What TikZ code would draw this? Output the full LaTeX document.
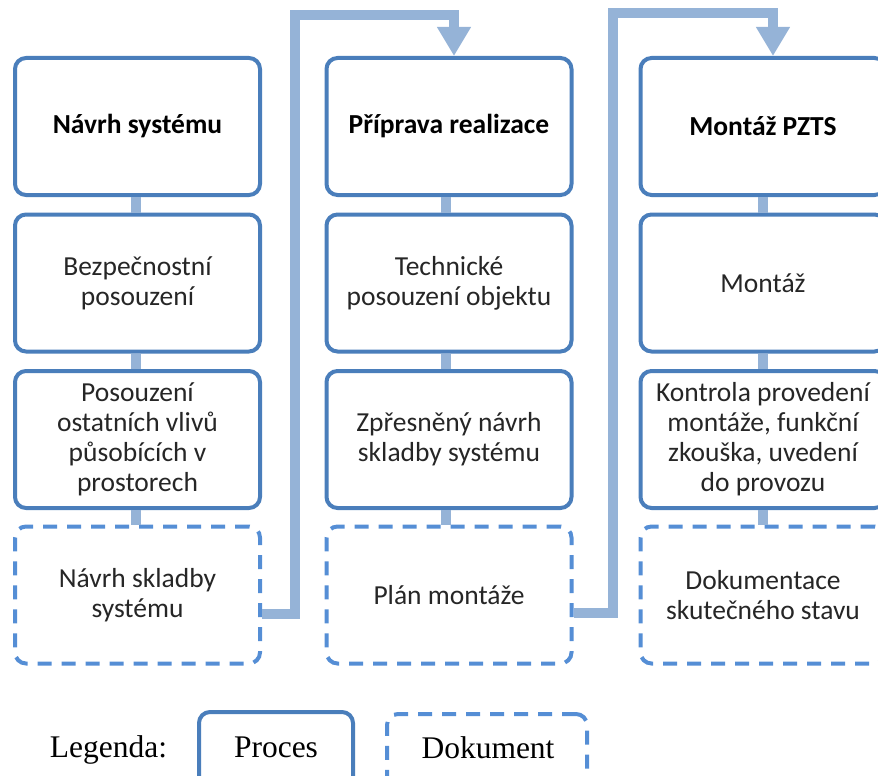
\documentclass[tikz,border=0pt]{standalone}
\usepackage{fontspec}
\setmainfont{Carlito}
\newfontfamily\legendfont{Liberation Serif}
\usetikzlibrary{arrows.meta}

\definecolor{procline}{RGB}{74,126,187}
\definecolor{docline}{RGB}{85,142,213}
\definecolor{linkblue}{RGB}{149,179,215}
\definecolor{bodytext}{RGB}{38,38,38}

\tikzset{
  procbox/.style={draw=procline, line width=4pt, rounded corners=11pt, fill=white,
    minimum width=245pt, minimum height=137pt, inner sep=0pt, align=center,
    text=bodytext, font=\fontsize{27.5}{30}\selectfont},
  headbox/.style={procbox, text=black, font=\fontsize{27.5}{30}\selectfont\bfseries},
  docbox/.style={procbox, draw=docline, dash pattern=on 14pt off 10pt},
  link/.style={draw=linkblue, line width=10pt},
  flow/.style={link, -{Triangle[width=32pt,length=29pt]}},
  legendtext/.style={font=\legendfont\fontsize{31.5}{36}\selectfont, inner sep=0pt, anchor=base}
}

\begin{document}
\begin{tikzpicture}[x=1pt, y=-1pt]
\useasboundingbox (0,0) rectangle (878,776);

% column 1: system design
\node[headbox] (b11) at (137.5,126.5) {Návrh systému};
\node[procbox] (b12) at (137.5,283) {Bezpečnostní\\posouzení};
\node[procbox] (b13) at (137.5,439.5) {Posouzení\\ostatních vlivů\\působících v\\prostorech};
\node[docbox]  (b14) at (137.5,595) {Návrh skladby\\systému};

% column 2: preparation
\node[headbox] (b21) at (449,126.5) {Příprava realizace};
\node[procbox] (b22) at (449,283) {Technické\\posouzení objektu};
\node[procbox] (b23) at (449,439.5) {Zpřesněný návrh\\skladby systému};
\node[docbox]  (b24) at (449,595) {Plán montáže};

% column 3: installation
\node[headbox] (b31) at (763,126.5) {Montáž PZTS};
\node[procbox] (b32) at (763,283) {Montáž};
\node[procbox] (b33) at (763,439.5) {Kontrola provedení\\montáže, funkční\\zkouška, uvedení\\do provozu};
\node[docbox]  (b34) at (763,595) {Dokumentace\\skutečného stavu};

% links inside each column
\foreach \c/\dx in {1/-1.5, 2/-3, 3/0} {
  \draw[link] ([xshift=\dx pt]b\c1.south) -- ([xshift=\dx pt]b\c2.north);
  \draw[link] ([xshift=\dx pt]b\c2.south) -- ([xshift=\dx pt]b\c3.north);
  \draw[link] ([xshift=\dx pt]b\c3.south) -- ([xshift=\dx pt]b\c4.north);
}

% flow from one column to the next
\coordinate (t1) at (295,15.5);
\coordinate (t2) at (612.5,13);
\draw[flow] ([yshift=-19pt]b14.east) -| (t1) -| ([xshift=5pt]b21.north);
\draw[flow] ([yshift=-18pt]b24.east) -| (t2) -| ([xshift=10pt]b31.north);

% legend
\node[legendtext] (lg) at (108.5,757) {Legenda:};
\node[procbox, minimum width=154pt, minimum height=80pt] (lp) at (276,752) {};
\node[docbox, minimum width=200pt, minimum height=80pt] (ld) at (487,754) {};
\node[legendtext] (lpt) at (276,757) {Proces};
\node[legendtext] (ldt) at (488,758) {Dokument};
\end{tikzpicture}
\end{document}
